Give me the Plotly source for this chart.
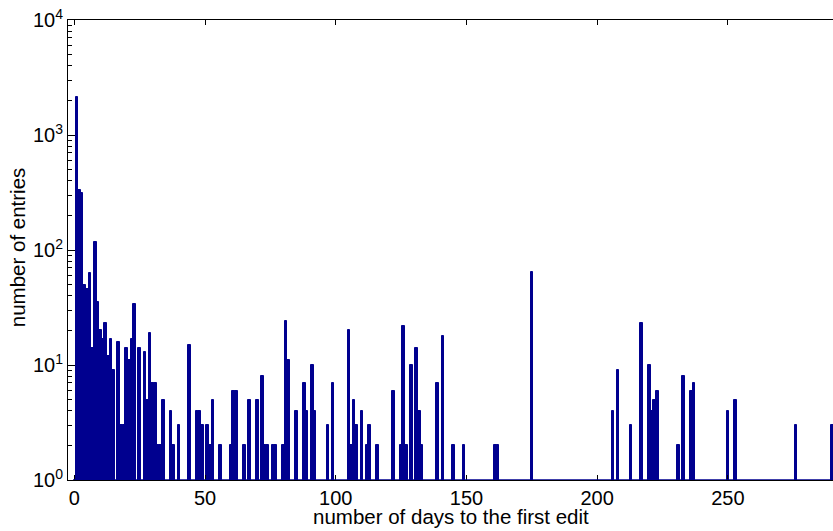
import plotly.graph_objects as go

# day -> number of entries (days with zero entries omitted)
days = [1, 2, 3, 4, 5, 6, 7, 8, 9, 10, 11, 12, 13, 14, 15, 17, 18, 19, 20, 21,
        22, 23, 25, 27, 28, 29, 30, 31, 32, 33, 34, 37, 38, 40, 44, 47, 48, 49,
        51, 52, 53, 56, 60, 61, 62, 65, 67, 70, 72, 73, 74, 76, 77, 80, 81, 82,
        85, 88, 89, 91, 92, 97, 99, 105, 106, 107, 108, 110, 112, 113, 116, 122,
        125, 126, 127, 129, 131, 132, 133, 139, 141, 145, 149, 161, 162, 175,
        206, 208, 213, 217, 220, 221, 222, 223, 231, 233, 236, 237, 250, 253,
        276, 290]
entries = [2150, 332, 311, 50, 46, 63, 14, 118, 35, 20, 17, 23, 12, 17, 9, 16, 3, 3, 14, 11,
           17, 34, 14, 13, 5, 19, 7, 7, 2, 2, 5, 4, 2, 3, 15, 4, 4, 3,
           3, 2, 5, 2, 2, 6, 6, 2, 5, 5, 8, 2, 2, 2, 2, 2, 24, 11,
           4, 7, 4, 10, 4, 3, 7, 20, 2, 5, 3, 4, 2, 3, 2, 6,
           2, 22, 2, 10, 14, 4, 2, 7, 18, 2, 2, 2, 2, 64,
           4, 9, 3, 23, 10, 4, 5, 6, 2, 8, 6, 7, 4, 5,
           3, 3]

x_ticks = [0, 50, 100, 150, 200, 250]
y_ticks = [1, 10, 100, 1000, 10000]
y_ticktext = ["10<sup>0</sup>", "10<sup>1</sup>", "10<sup>2</sup>", "10<sup>3</sup>", "10<sup>4</sup>"]
y_minor = [m * 10 ** e for e in range(4) for m in range(2, 10)]

BLUE = "rgb(0,0,143)"
FONT = "Liberation Sans, Arial, Helvetica, sans-serif"

fig = go.Figure()
fig.add_trace(go.Bar(
    x=days, y=entries, width=1.0,
    marker=dict(color=BLUE, line=dict(color=BLUE, width=1)),
    showlegend=False,
))

fig.update_layout(
    width=833, height=531,
    margin=dict(l=68, r=0, t=20, b=51),
    paper_bgcolor="white", plot_bgcolor="white",
    bargap=0,
    font=dict(family=FONT, size=20, color="black"),
    xaxis=dict(
        range=[-2.41, 290.2], tickvals=x_ticks,
        ticks="inside", ticklen=5, tickcolor="black", tickwidth=1,
        showline=True, linecolor="black", linewidth=1, mirror="ticks",
        showgrid=False, zeroline=False,
        tickfont=dict(family=FONT, size=20, color="black"),
    ),
    yaxis=dict(
        type="log", range=[0, 4], tickvals=y_ticks, ticktext=y_ticktext,
        ticks="inside", ticklen=7, tickcolor="black", tickwidth=1,
        showline=True, linecolor="black", linewidth=1, mirror=False,
        showgrid=False, zeroline=False,
        tickfont=dict(family=FONT, size=20, color="black"),
        minor=dict(tickvals=y_minor, ticks="inside", ticklen=4,
                   tickcolor="black", tickwidth=1, showgrid=False),
    ),
    shapes=[dict(type="line", xref="x", yref="y", x0=-0.5, x1=290.2, y0=1, y1=1,
                 line=dict(color=BLUE, width=1.5))],
    annotations=[
        dict(text="number of days to the first edit", xref="paper", yref="paper",
             x=0.5, y=-0.079, xanchor="center", yanchor="middle", showarrow=False,
             font=dict(family=FONT, size=20.5, color="black")),
        dict(text="number of entries", xref="paper", yref="paper",
             x=-0.066, y=0.505, xanchor="center", yanchor="middle", showarrow=False,
             textangle=-90, font=dict(family=FONT, size=20.5, color="black")),
    ],
)

fig.write_html("out.html")
